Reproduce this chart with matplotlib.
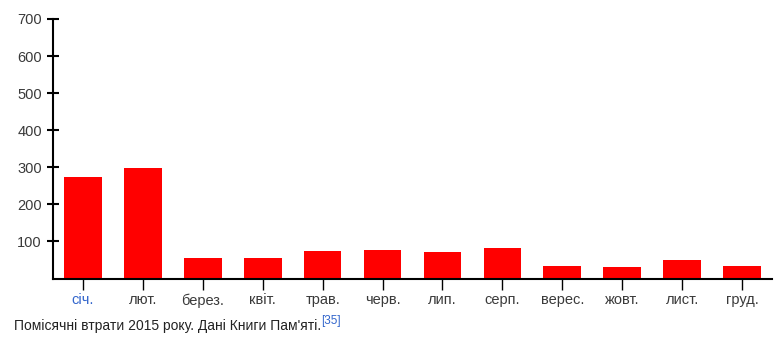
import matplotlib
matplotlib.use("Agg")
import matplotlib.pyplot as plt

months = ["січ.", "лют.", "берез.", "квіт.", "трав.", "черв.", "лип.", "серп.",
          "верес.", "жовт.", "лист.", "груд."]
losses = [274, 299, 56, 56, 74, 78, 72, 83, 35, 30, 50, 35]
yticks = [100, 200, 300, 400, 500, 600, 700]

plt.rcParams['font.family'] = ['Liberation Sans', 'DejaVu Sans']

fig = plt.figure(figsize=(7.79, 3.41), dpi=100)
W, H = 779, 341
ax = fig.add_axes([53 / W, (H - 278.5) / H, (772 - 53) / W, (278.5 - 19) / H])

x = list(range(len(months)))
ax.bar(x, losses, width=0.63, color="#ff0000", zorder=2)
ax.set_xlim(-0.5, 11.5)
ax.set_ylim(0, 700)
ax.set_yticks(yticks)
ax.set_yticklabels([str(v) for v in yticks])
ax.set_xticks(x)
ax.set_xticklabels(months)

for s in ["top", "right"]:
    ax.spines[s].set_visible(False)
for s in ["left", "bottom"]:
    ax.spines[s].set_linewidth(1.5)
    ax.spines[s].set_color("black")

ax.tick_params(axis="y", direction="inout", length=8, width=1.5, labelsize=10.5,
               labelcolor="#3a3a3a", pad=4)
ax.tick_params(axis="x", direction="out", length=8, width=1.0, labelsize=10.5,
               labelcolor="#3a3a3a", pad=2.5)
ax.get_xticklabels()[0].set_color("#3366cc")

fig.text(14 / W, 1 - 326 / H, "Помісячні втрати 2015 року. Дані Книги Пам'яті.",
         fontsize=10, color="#222222", va="center", ha="left")
fig.text(321 / W, 1 - 321 / H, "[35]", fontsize=8.5, color="#3366cc", va="center", ha="left")

fig.savefig("out.png", dpi=100)
